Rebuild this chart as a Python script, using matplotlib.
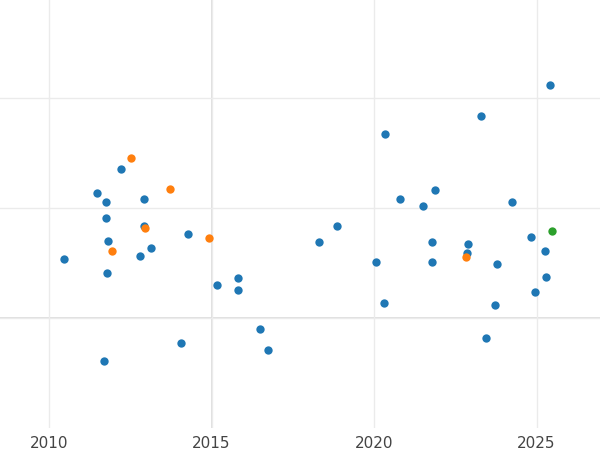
import matplotlib
matplotlib.use('Agg')
import matplotlib.pyplot as plt

# blue series
blue_x = [2010.46, 2011.48, 2011.75, 2011.75, 2012.22, 2011.82, 2011.78, 2011.69, 2012.80, 2012.92,
          2012.92, 2013.14, 2014.06, 2014.28, 2015.17, 2015.82, 2015.82, 2016.49, 2016.74, 2018.31,
          2018.86, 2020.06, 2020.34, 2020.31, 2020.80, 2021.51, 2021.88, 2021.78, 2021.78, 2022.89,
          2022.86, 2023.29, 2023.45, 2023.72, 2023.78, 2024.25, 2024.83, 2024.95, 2025.26, 2025.29,
          2025.42]
blue_y = [0.54, 1.14, 1.05, 0.91, 1.35, 0.70, 0.41, -0.39, 0.56, 1.08,
          0.84, 0.64, -0.23, 0.76, 0.30, 0.36, 0.25, -0.10, -0.29, 0.69,
          0.84, 0.51, 1.67, 0.14, 1.08, 1.02, 1.16, 0.69, 0.51, 0.67,
          0.59, 1.84, -0.18, 0.12, 0.49, 1.05, 0.74, 0.24, 0.61, 0.37,
          2.12]
# orange series
orange_x = [2012.52, 2013.72, 2011.94, 2012.95, 2014.92, 2022.83]
orange_y = [1.45, 1.17, 0.61, 0.82, 0.73, 0.55]
# green series
green_x = [2025.48]
green_y = [0.79]

fig = plt.figure(figsize=(6, 4.5), dpi=100)
ax = fig.add_axes([0, 22 / 450, 1, 428 / 450])

ax.scatter(blue_x, blue_y, s=36, color='#1f77b4', zorder=3, linewidths=0)
ax.scatter(orange_x, orange_y, s=36, color='#ff7f0e', zorder=3, linewidths=0)
ax.scatter(green_x, green_y, s=36, color='#2ca02c', zorder=3, linewidths=0)

ax.set_xlim(2008.49, 2026.95)
ax.set_ylim(-1.0, 2.89)
ax.set_xticks([2010, 2015, 2020, 2025])
ax.set_yticks([0, 1, 2])
ax.set_yticklabels([])
ax.tick_params(length=0, labelsize=11, labelcolor='#444444', pad=6)
ax.tick_params(axis='y', left=False, labelleft=False)
ax.grid(True, color='#ebebeb', linewidth=1, zorder=0)
ax.axvline(2015, color='#dcdcdc', linewidth=1.3, zorder=1)
ax.axhline(0, color='#dcdcdc', linewidth=1.3, zorder=1)
for s in ax.spines.values():
    s.set_visible(False)

fig.savefig('out.png', dpi=100)
